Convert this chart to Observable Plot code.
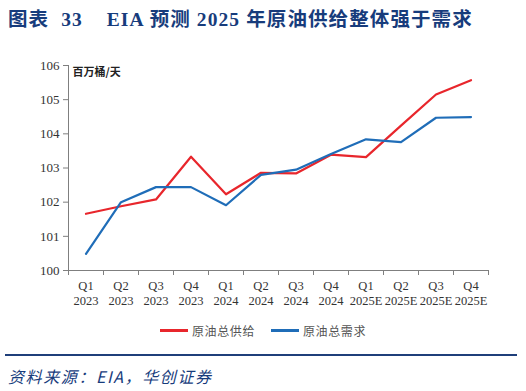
<!DOCTYPE html>
<html><head><meta charset="utf-8">
<script src="https://cdn.jsdelivr.net/npm/d3@7"></script>
<script src="https://cdn.jsdelivr.net/npm/@observablehq/plot@0.6"></script>
<style>
body{margin:0;background:#fff;width:526px;height:391px;position:relative;overflow:hidden;}
#title{position:absolute;left:8px;top:3px;font-family:"Liberation Serif","Noto Sans CJK SC",serif;font-weight:bold;font-size:19.5px;color:#173c7c;white-space:pre;letter-spacing:1.1px;}
#chart{position:absolute;left:0;top:40px;}
#legend{position:absolute;top:322px;left:0;width:526px;font-family:"Noto Sans CJK SC",sans-serif;font-size:12px;color:#555;letter-spacing:0.6px;}
.lg{position:absolute;display:flex;align-items:center;}
.sw{width:28px;height:2.5px;margin-right:4px;}
#rule{position:absolute;left:5px;top:354px;width:512px;height:2px;background:#1f3f7a;}
#source{position:absolute;left:8px;top:364px;font-family:"Noto Sans CJK SC",sans-serif;font-style:italic;font-size:16px;color:#173c7c;letter-spacing:1.6px;}
</style></head>
<body>
<div id="title">图表  33    EIA 预测 2025 年原油供给整体强于需求</div>
<div id="chart"></div>
<div id="legend"></div>
<div id="rule"></div>
<div id="source">资料来源：EIA，华创证券</div>
<script>
const quarters = ["Q1","Q2","Q3","Q4","Q1","Q2","Q3","Q4","Q1","Q2","Q3","Q4"];
const years = ["2023","2023","2023","2023","2024","2024","2024","2024","2025E","2025E","2025E","2025E"];
const supply = [101.66, 101.88, 102.08, 103.33, 102.23, 102.86, 102.84, 103.39, 103.32, 104.24, 105.15, 105.57];
const demand = [100.49, 102.0, 102.44, 102.44, 101.91, 102.8, 102.95, 103.41, 103.84, 103.76, 104.47, 104.49];
const yTicks = [100, 101, 102, 103, 104, 105, 106];
const seriesNames = ["原油总供给", "原油总需求"];
const seriesColors = ["#e8262c", "#1f6db8"];

const idx = d3.range(quarters.length);
const bounds = d3.range(quarters.length + 1).map(i => i - 0.5);
const axisColor = "#7f7f7f";

const plot = Plot.plot({
  width: 526, height: 275,
  marginLeft: 68, marginRight: 38, marginTop: 25, marginBottom: 45,
  style: {fontFamily: "'Liberation Serif', serif", fontSize: "13px", color: "#333", background: "#fff"},
  x: {domain: [-0.5, quarters.length - 0.5], axis: null},
  y: {domain: [100, 106], axis: null},
  marks: [
    Plot.axisY(yTicks, {anchor: "left", tickSize: 5, tickPadding: 4, stroke: axisColor, fill: "#333", fontSize: 13, tickFormat: d => String(d)}),
    Plot.ruleX([-0.5], {stroke: axisColor}),
    Plot.ruleY([100], {stroke: axisColor}),
    Plot.axisX(bounds, {anchor: "bottom", tickSize: 5, stroke: axisColor, tickFormat: () => ""}),
    Plot.axisX(idx, {anchor: "bottom", tickSize: 0, tickPadding: 8, fill: "#333", fontSize: 12.5, lineHeight: 1.25, tickFormat: i => quarters[i] + "\n" + years[i]}),
    Plot.line(idx, {x: i => i, y: i => supply[i], stroke: seriesColors[0], strokeWidth: 2.2}),
    Plot.line(idx, {x: i => i, y: i => demand[i], stroke: seriesColors[1], strokeWidth: 2.2}),
    Plot.text(["百万桶/天"], {frameAnchor: "top-left", dx: 4, dy: 3, fontFamily: "'Noto Sans CJK SC', sans-serif", fontWeight: "bold", fontSize: 11, fill: "#222", text: d => d})
  ]
});
document.getElementById("chart").appendChild(plot);

const legend = document.getElementById("legend");
const lgLeft = [160, 271];
seriesNames.forEach((n, k) => {
  const el = document.createElement("div");
  el.className = "lg";
  el.style.left = lgLeft[k] + "px";
  el.innerHTML = `<div class="sw" style="background:${seriesColors[k]}"></div><span>${n}</span>`;
  legend.appendChild(el);
});
</script>
</body></html>
